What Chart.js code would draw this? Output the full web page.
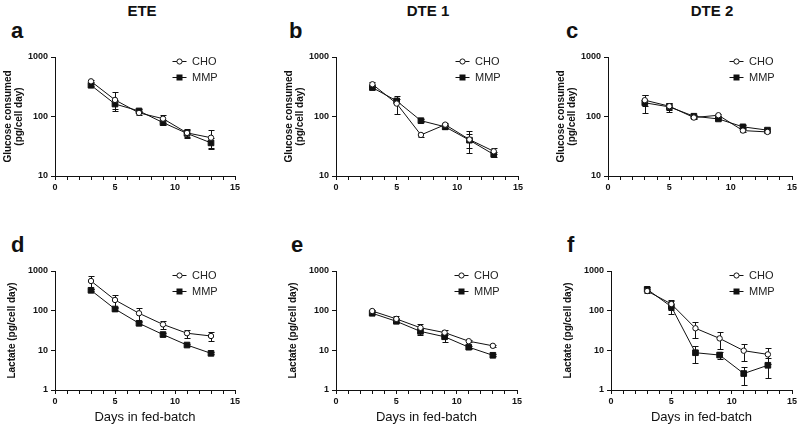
<!DOCTYPE html>
<html>
<head>
<meta charset="utf-8">
<script src="https://cdn.jsdelivr.net/npm/chart.js@4.4.1/dist/chart.umd.min.js"></script>
<style>
  body { margin: 0; background: #fff; width: 800px; height: 429px; overflow: hidden; position: relative;
         font-family: "Liberation Sans", Arial, sans-serif; color: #111; }
  .col { position: absolute; top: 2px; font-weight: bold; font-size: 15px; transform: translateX(-50%); white-space: nowrap; }
  .lt { position: absolute; font-weight: bold; font-size: 22px; line-height: 22px; }
  canvas { position: absolute; }
</style>
</head>
<body>
<div class="col" style="left:142px">ETE</div>
<div class="col" style="left:428px">DTE 1</div>
<div class="col" style="left:712px">DTE 2</div>
<div class="lt" style="left:11px;top:20px">a</div>
<div class="lt" style="left:289px;top:20px">b</div>
<div class="lt" style="left:566px;top:20px">c</div>
<div class="lt" style="left:11px;top:234px">d</div>
<div class="lt" style="left:291px;top:234px">e</div>
<div class="lt" style="left:567px;top:234px">f</div>

<canvas id="ca" width="265" height="170" style="left:0px;top:40px"></canvas>
<canvas id="cb" width="257" height="170" style="left:281px;top:40px"></canvas>
<canvas id="cc" width="247" height="170" style="left:553px;top:40px"></canvas>
<canvas id="cd" width="265" height="179" style="left:0px;top:250px"></canvas>
<canvas id="ce" width="257" height="179" style="left:281px;top:250px"></canvas>
<canvas id="cf" width="244" height="179" style="left:556px;top:250px"></canvas>

<script>
// days sampled in the fed-batch
const days = [3, 5, 7, 9, 11, 13];
const xTicks = [0, 5, 10, 15];
const glucoseTicks = [10, 100, 1000];
const lactateTicks = [1, 10, 100, 1000];

// glucose consumed (pg/cell day), mean and SD
const eteGluCho = [390, 190, 115, 92, 53, 44];
const eteGluChoSd = [15, 65, 8, 15, 8, 15];
const eteGluMmp = [335, 162, 124, 79, 52, 36];
const eteGluMmpSd = [15, 30, 8, 8, 8, 8];

const dte1GluCho = [348, 165, 49, 73, 41, 26];
const dte1GluChoSd = [30, 55, 4, 5, 17, 3];
const dte1GluMmp = [306, 183, 85, 67, 40, 23];
const dte1GluMmpSd = [20, 15, 5, 5, 10, 2];

const dte2GluCho = [188, 149, 96, 105, 58, 55];
const dte2GluChoSd = [40, 20, 5, 5, 3, 3];
const dte2GluMmp = [170, 145, 101, 91, 67, 59];
const dte2GluMmpSd = [57, 25, 6, 5, 4, 3];

// lactate (pg/cell day), mean and SD
const eteLacCho = [560, 186, 86, 45, 27, 23];
const eteLacChoSd = [200, 60, 30, 10, 6, 6];
const eteLacMmp = [326, 110, 48, 25, 13.6, 8.4];
const eteLacMmpSd = [20, 10, 5, 2, 1, 0.5];

const dte1LacCho = [98, 62, 37, 28, 17, 13];
const dte1LacChoSd = [5, 10, 8, 4, 1, 1];
const dte1LacMmp = [86, 54, 30, 22, 12, 7.5];
const dte1LacMmpSd = [5, 6, 5, 6, 1, 0.5];

const dte2LacCho = [313, 147, 36, 20, 9.8, 7.9];
const dte2LacChoSd = [30, 40, 15, 9, 4.5, 3.5];
const dte2LacMmp = [345, 126, 8.7, 7.6, 2.6, 4.2];
const dte2LacMmpSd = [40, 45, 4, 1.5, 1.3, 2.2];

const ink = '#111';

const errorBars = {
  id: 'errorBars',
  beforeDatasetsDraw(chart) {
    const { ctx, scales: { x, y } } = chart;
    ctx.save();
    ctx.strokeStyle = ink;
    ctx.lineWidth = 1;
    chart.data.datasets.forEach(ds => {
      ds.data.forEach((pt, i) => {
        const e = ds.errors[i];
        if (!e) return;
        const px = Math.round(x.getPixelForValue(pt.x)) + 0.5;
        const top = Math.round(y.getPixelForValue(pt.y + e)) + 0.5;
        const bot = Math.round(y.getPixelForValue(Math.max(pt.y - e, y.min))) + 0.5;
        ctx.beginPath();
        ctx.moveTo(px, top); ctx.lineTo(px, bot);
        ctx.moveTo(px - 3, top); ctx.lineTo(px + 3, top);
        ctx.moveTo(px - 3, bot); ctx.lineTo(px + 3, bot);
        ctx.stroke();
      });
    });
    ctx.restore();
  }
};

// GraphPad style key: line with marker, then label
const seriesKey = {
  id: 'seriesKey',
  afterDraw(chart) {
    const { ctx, chartArea: a } = chart;
    ctx.save();
    ctx.font = '11px "Liberation Sans", Arial, sans-serif';
    ctx.textBaseline = 'middle';
    chart.data.datasets.forEach((ds, i) => {
      const y = Math.round(a.top + 4 + i * 16) + 0.5;
      const mx = Math.round(a.right - 56) + 0.5;
      ctx.strokeStyle = ink;
      ctx.lineWidth = 1;
      ctx.beginPath();
      ctx.moveTo(mx - 7, y); ctx.lineTo(mx + 7, y);
      ctx.stroke();
      if (ds.pointStyle === 'rect') {
        ctx.fillStyle = ink;
        ctx.fillRect(mx - 3, y - 3, 6, 6);
      } else {
        ctx.beginPath();
        ctx.arc(mx, y, 2.6, 0, Math.PI * 2);
        ctx.fillStyle = '#fff';
        ctx.fill();
        ctx.stroke();
      }
      ctx.fillStyle = '#222';
      ctx.fillText(ds.label, a.right - 43, y);
    });
    ctx.restore();
  }
};

function series(vals) {
  return days.map((d, i) => ({ x: d, y: vals[i] }));
}

function makeChart(id, p) {
  new Chart(document.getElementById(id), {
    type: 'line',
    data: {
      datasets: [
        {
          label: 'CHO', data: series(p.cho), errors: p.choSd,
          borderColor: ink, borderWidth: 1, pointStyle: 'circle', pointRadius: 2.7,
          pointBackgroundColor: '#fff', pointBorderColor: ink, pointBorderWidth: 1
        },
        {
          label: 'MMP', data: series(p.mmp), errors: p.mmpSd,
          borderColor: ink, borderWidth: 1, pointStyle: 'rect', pointRadius: 4,
          pointBackgroundColor: ink, pointBorderColor: ink, pointBorderWidth: 1
        }
      ]
    },
    options: {
      responsive: false,
      animation: false,
      layout: { padding: { top: p.top, right: p.right, left: 0, bottom: 0 } },
      plugins: { legend: { display: false }, tooltip: { enabled: false } },
      scales: {
        x: {
          type: 'linear', min: 0, max: 15,
          ticks: {
            stepSize: 1, autoSkip: false, maxRotation: 0, padding: 2, color: ink,
            font: { family: '"Liberation Sans", Arial', size: 9, weight: 'bold' },
            callback: v => (xTicks.includes(v) ? String(v) : '')
          },
          grid: { drawOnChartArea: false, tickLength: 4, color: ink, tickWidth: 1 },
          border: { color: ink, width: 1 },
          title: {
            display: !!p.xTitle, text: p.xTitle || '', color: ink,
            font: { family: '"Liberation Sans", Arial', size: 13 },
            padding: { top: 0, bottom: 4 }
          },
          afterFit: s => { s.height = p.xh; }
        },
        y: {
          type: 'logarithmic', min: p.yTicks[0], max: p.yTicks[p.yTicks.length - 1],
          afterBuildTicks: s => { s.ticks = p.yTicks.map(v => ({ value: v })); },
          ticks: {
            color: ink, padding: 3,
            font: { family: '"Liberation Sans", Arial', size: 9, weight: 'bold' },
            callback: v => String(v)
          },
          grid: { drawOnChartArea: false, tickLength: 4, color: ink },
          border: { color: ink, width: 1 },
          title: {
            display: true, text: p.yTitle, color: ink,
            font: { family: '"Liberation Sans", Arial', size: 10, weight: 'bold', lineHeight: 1.05 },
            padding: { top: p.ytPad, bottom: 0 }
          },
          afterFit: s => { s.width = 55; }
        }
      }
    },
    plugins: [errorBars, seriesKey]
  });
}

const gluTitle = ['Glucose consumed', '(pg/cell day)'];
const lacTitle = 'Lactate (pg/cell day)';
const xTitle = 'Days in fed-batch';

const top1 = { top: 17, xh: 34, yTicks: glucoseTicks, yTitle: gluTitle, ytPad: 3 };
const top2 = { top: 21, xh: 39, yTicks: lactateTicks, yTitle: lacTitle, ytPad: 7, xTitle: xTitle };

makeChart('ca', { ...top1, right: 30, cho: eteGluCho, choSd: eteGluChoSd, mmp: eteGluMmp, mmpSd: eteGluMmpSd });
makeChart('cb', { ...top1, right: 20, cho: dte1GluCho, choSd: dte1GluChoSd, mmp: dte1GluMmp, mmpSd: dte1GluMmpSd });
makeChart('cc', { ...top1, right: 8, cho: dte2GluCho, choSd: dte2GluChoSd, mmp: dte2GluMmp, mmpSd: dte2GluMmpSd });
makeChart('cd', { ...top2, right: 30, cho: eteLacCho, choSd: eteLacChoSd, mmp: eteLacMmp, mmpSd: eteLacMmpSd });
makeChart('ce', { ...top2, right: 21, cho: dte1LacCho, choSd: dte1LacChoSd, mmp: dte1LacMmp, mmpSd: dte1LacMmpSd });
makeChart('cf', { ...top2, right: 8, cho: dte2LacCho, choSd: dte2LacChoSd, mmp: dte2LacMmp, mmpSd: dte2LacMmpSd });
</script>
</body>
</html>
